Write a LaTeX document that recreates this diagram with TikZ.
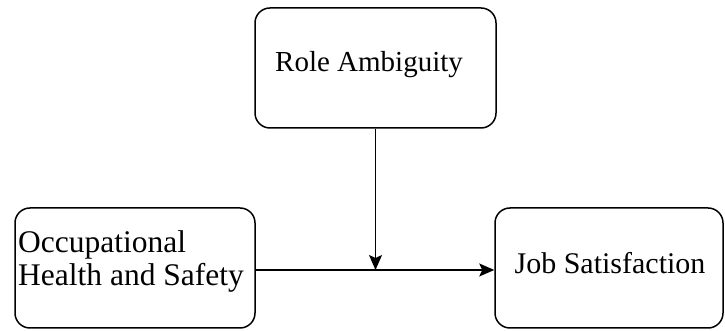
\documentclass[tikz,border=0pt]{standalone}
\usepackage{fontspec}
\setmainfont{Liberation Serif}
\usetikzlibrary{arrows.meta,calc}
\tikzset{
  box/.style={draw, line width=1.5pt, rounded corners=15pt, inner sep=0pt},
  txt/.style={inner sep=0pt, font=\fontsize{30}{33}\selectfont},
  arr/.style={line width=1.5pt, -{Stealth[length=15pt,width=13pt,inset=3pt]}}
}
\begin{document}
\begin{tikzpicture}[x=1pt,y=1pt]
\useasboundingbox (0,0) rectangle (725,331);
% boxes
\node[box, minimum width=241pt, minimum height=120pt] (role) at (375.5,263) {};
\node[box, minimum width=240pt, minimum height=120pt] (ohs) at (135,63) {};
\node[box, minimum width=228pt, minimum height=120pt] (js) at (609,63) {};
% texts
\node[txt, font=\fontsize{29}{33}\selectfont] (roleT) at (369,266) {Role Ambiguity};
\node[txt, anchor=west, align=left, font=\fontsize{31.5}{33}\selectfont] (ohsT) at (18,70) {Occupational\\Health and Safety};
\node[txt] (jsT) at (610,68) {Job Satisfaction};
% connectors
\coordinate (a) at ($(ohs.east)+(0,-2)$);
\coordinate (b) at ($(js.west)+(0,-2)$);
\coordinate (m) at (role.south |- a);
\draw[arr] (a) -- (b);
\draw[arr] (role.south) -- (m);
\end{tikzpicture}
\end{document}
